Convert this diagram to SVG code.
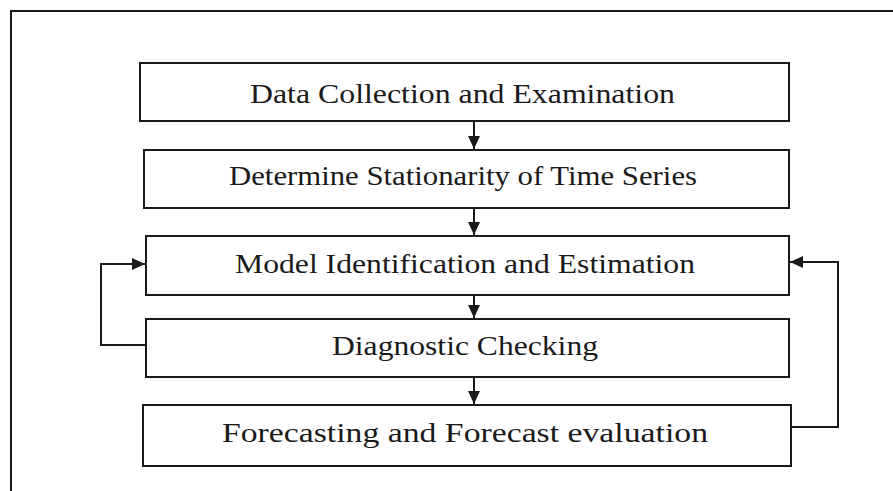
<svg xmlns="http://www.w3.org/2000/svg" width="893" height="491" viewBox="0 0 893 491">
<style>
.box{fill:#fff;stroke:#1a1a1a;stroke-width:2}
.lbl{font-family:"Liberation Serif","Times New Roman",serif;font-size:28px;fill:#1a1a1a;text-anchor:middle}
.con{fill:none;stroke:#1a1a1a;stroke-width:2}
</style>
<defs>
<marker id="ah" markerWidth="13" markerHeight="12" refX="13" refY="6" orient="auto" markerUnits="userSpaceOnUse" viewBox="0 0 13 12">
<path d="M0,0 L13,6 L0,12 z" fill="#1a1a1a"/>
</marker>
</defs>
<rect width="893" height="491" fill="#fff"/>
<path d="M11,491 V11 H893" fill="none" stroke="#1a1a1a" stroke-width="2"/>
<g id="n1"><rect class="box" x="140" y="63" width="649" height="58"/><text class="lbl" x="462.5" y="103" textLength="425" lengthAdjust="spacingAndGlyphs">Data Collection and Examination</text></g>
<g id="n2"><rect class="box" x="144" y="150" width="645" height="58"/><text class="lbl" x="463" y="185" textLength="468" lengthAdjust="spacingAndGlyphs">Determine Stationarity of Time Series</text></g>
<g id="n3"><rect class="box" x="146" y="236" width="643" height="59"/><text class="lbl" x="465" y="273" textLength="460" lengthAdjust="spacingAndGlyphs">Model Identification and Estimation</text></g>
<g id="n4"><rect class="box" x="146" y="319" width="643" height="58"/><text class="lbl" x="465" y="355" textLength="266" lengthAdjust="spacingAndGlyphs">Diagnostic Checking</text></g>
<g id="n5"><rect class="box" x="143" y="405" width="648" height="61"/><text class="lbl" x="465" y="442" textLength="486" lengthAdjust="spacingAndGlyphs">Forecasting and Forecast evaluation</text></g>
<g id="connectors">
<line class="con" x1="474" y1="121" x2="474" y2="149" marker-end="url(#ah)"/>
<line class="con" x1="474" y1="208" x2="474" y2="235" marker-end="url(#ah)"/>
<line class="con" x1="474" y1="295" x2="474" y2="318" marker-end="url(#ah)"/>
<line class="con" x1="474" y1="377" x2="474" y2="404" marker-end="url(#ah)"/>
<path class="con" d="M146,345 H101 V264 H145" marker-end="url(#ah)"/>
<path class="con" d="M791,427 H838 V262 H790" marker-end="url(#ah)"/>
</g>
</svg>
